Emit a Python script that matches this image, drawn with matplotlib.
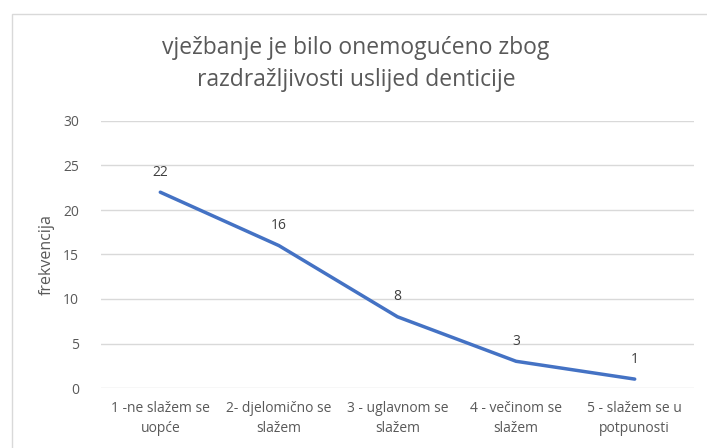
import matplotlib.pyplot as plt
from matplotlib.patches import Rectangle

categories = ["1 -ne slažem se\nuopće", "2- djelomično se\nslažem", "3 - uglavnom se\nslažem",
              "4 - večinom se\nslažem", "5 - slažem se u\npotpunosti"]
values = [22, 16, 8, 3, 1]
yticks = [0, 5, 10, 15, 20, 25, 30]

plt.rcParams['font.family'] = ['Open Sans', 'DejaVu Sans']
grey = '#595959'

fig = plt.figure(figsize=(7.07, 4.48), dpi=100)
fig.patches.append(Rectangle((12 / 707, -0.1), 1.2, 1 - 14 / 448 + 0.1, transform=fig.transFigure,
                             fill=False, edgecolor='#d9d9d9', linewidth=1))

ax = fig.add_axes([101 / 707, 1 - 388 / 448, 593 / 707, 267 / 448])
x = range(len(values))
ax.plot(x, values, color='#4472C4', linewidth=2.5, solid_capstyle='round')
for xi, v in zip(x, values):
    ax.annotate(str(v), (xi, v), xytext=(0, 9), textcoords='offset points',
                ha='center', va='bottom', fontsize=10, color='#404040')

ax.set_xlim(-0.5, len(values) - 0.5)
ax.set_ylim(0, 30)
ax.set_yticks(yticks)
ax.set_xticks(list(x))
ax.set_xticklabels(categories, fontsize=10, color=grey, linespacing=1.5)
ax.tick_params(axis='y', labelsize=10, labelcolor=grey, length=0, pad=16)
ax.tick_params(axis='x', length=0, pad=9)
ax.grid(axis='y', color='#d9d9d9', linewidth=1)
ax.set_axisbelow(True)
for s in ax.spines.values():
    s.set_visible(False)
ax.set_ylabel('frekvencija', fontsize=11.5, color=grey, labelpad=6)

fig.text(356 / 707, 1 - 64 / 448, 'vježbanje je bilo onemogućeno zbog\nrazdražljivosti uslijed denticije',
         ha='center', va='center', fontsize=16.5, color=grey, linespacing=1.4)

fig.savefig('out.png', dpi=100)
